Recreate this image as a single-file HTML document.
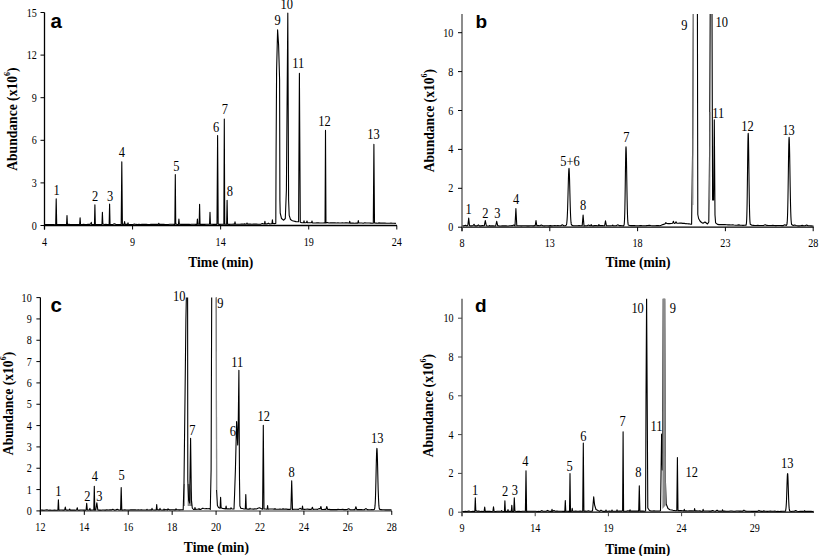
<!DOCTYPE html>
<html><head><meta charset="utf-8"><style>
html,body{margin:0;padding:0;background:#fff;}
svg{display:block;}
text{font-family:"Liberation Serif",serif;font-size:11.5px;fill:#000;}
text.pl{font-size:14.3px;}
text.tt{font-size:13.6px;font-weight:bold;}
tspan.sup{font-size:8px;}
text.let{font-family:"Liberation Sans",sans-serif;font-weight:bold;font-size:19px;}
</style></head><body>
<svg width="819" height="556" viewBox="0 0 819 556">
<rect width="819" height="556" fill="#fff"/>
<g><clipPath id="cp0"><rect x="44.5" y="12.5" width="354.5" height="223"/></clipPath>
<line x1="43.85" y1="225.5" x2="397" y2="225.5" stroke="#000" stroke-width="1.3"/>
<line x1="44.5" y1="12.5" x2="44.5" y2="229.5" stroke="#000" stroke-width="1.3"/>
<line x1="40.5" y1="225.5" x2="44.5" y2="225.5" stroke="#000" stroke-width="1"/>
<text transform="translate(36.8 229.5) scale(0.88 1)" text-anchor="end">0</text>
<line x1="40.5" y1="182.9" x2="44.5" y2="182.9" stroke="#000" stroke-width="1"/>
<text transform="translate(36.8 186.9) scale(0.88 1)" text-anchor="end">3</text>
<line x1="40.5" y1="140.3" x2="44.5" y2="140.3" stroke="#000" stroke-width="1"/>
<text transform="translate(36.8 144.3) scale(0.88 1)" text-anchor="end">6</text>
<line x1="40.5" y1="97.7" x2="44.5" y2="97.7" stroke="#000" stroke-width="1"/>
<text transform="translate(36.8 101.7) scale(0.88 1)" text-anchor="end">9</text>
<line x1="40.5" y1="55.1" x2="44.5" y2="55.1" stroke="#000" stroke-width="1"/>
<text transform="translate(36.8 59.1) scale(0.88 1)" text-anchor="end">12</text>
<line x1="40.5" y1="12.5" x2="44.5" y2="12.5" stroke="#000" stroke-width="1"/>
<text transform="translate(36.8 16.5) scale(0.88 1)" text-anchor="end">15</text>
<line x1="44.5" y1="225.5" x2="44.5" y2="229.5" stroke="#000" stroke-width="1"/>
<text transform="translate(44.5 245.8) scale(0.88 1)" text-anchor="middle">4</text>
<line x1="132.58" y1="225.5" x2="132.58" y2="229.5" stroke="#000" stroke-width="1"/>
<text transform="translate(132.58 245.8) scale(0.88 1)" text-anchor="middle">9</text>
<line x1="220.65" y1="225.5" x2="220.65" y2="229.5" stroke="#000" stroke-width="1"/>
<text transform="translate(220.65 245.8) scale(0.88 1)" text-anchor="middle">14</text>
<line x1="308.73" y1="225.5" x2="308.73" y2="229.5" stroke="#000" stroke-width="1"/>
<text transform="translate(308.73 245.8) scale(0.88 1)" text-anchor="middle">19</text>
<line x1="396.8" y1="225.5" x2="396.8" y2="229.5" stroke="#000" stroke-width="1"/>
<text transform="translate(396.8 245.8) scale(0.88 1)" text-anchor="middle">24</text>
<path clip-path="url(#cp0)" d="M44.5 224.57 L46 224.61 L47.5 224.53 L49 224.64 L50.5 224.52 L52 224.56 L53.5 224.47 L55 224.68 L55.7 224.62 L56.2 198.7 L56.7 224.56 L58.2 224.59 L59.7 224.48 L61.2 224.62 L62.7 224.46 L64.2 224.58 L65.7 224.49 L66.55 224.65 L67 215.6 L67.45 224.55 L68.95 224.41 L70.45 224.47 L71.95 224.61 L73.45 224.59 L74.95 224.49 L76.45 224.55 L77.95 224.57 L79.45 224.45 L79.65 224.45 L80.1 217.9 L80.55 224.4 L82.05 224.48 L83.55 224.41 L85.05 224.49 L86.55 224.61 L88.05 224.4 L89.55 224.41 L90.85 223.73 L91.3 222.3 L91.75 224.56 L93.25 224.46 L94.45 224.5 L94.9 204.8 L95.35 224.55 L96.85 224.51 L98.35 224.54 L99.85 224.53 L101.35 224.45 L101.95 224.52 L102.4 212.2 L102.85 223.94 L104.35 224.47 L105.85 224.39 L107.35 224.58 L108.85 224.37 L109.15 224.37 L109.6 204.1 L110.05 224.5 L111.55 224.55 L113.05 224.35 L114.55 223.72 L116.05 224.54 L117.55 224.5 L119.05 224.54 L120.55 224.46 L121.2 224.45 L121.8 161.7 L122.4 224.39 L123.9 224.34 L124.15 224.34 L124.6 221.5 L125.05 224.4 L126.55 224.32 L127.55 224.5 L128 222.8 L128.45 224.37 L129.95 224.48 L131.45 224.51 L132.95 224.53 L134.45 224.05 L135.95 224.42 L137.45 224.51 L138.95 224.28 L140.45 224.49 L141.95 224.36 L143.45 224.38 L144.95 224.35 L146.45 224.38 L147.95 224.45 L149.45 224.44 L150.95 224.39 L152.45 224.34 L153.95 224.4 L155.45 224.41 L156.95 224.28 L158.35 224.36 L158.8 223.3 L159.25 224.39 L160.75 224.41 L162.25 224.35 L163.75 224.33 L165.25 224.47 L166.75 224.46 L168.25 224.45 L169.75 224.31 L171.25 224.27 L172.75 224.25 L174.25 224.33 L174.85 224.34 L175.3 174.6 L175.75 223.88 L177.25 224.43 L178.45 224.41 L178.9 219 L179.35 224.2 L180.85 224.4 L182.35 224.2 L183.85 224.36 L185.35 224.31 L186.85 224.36 L188.35 224.4 L189.85 224.42 L191.35 224.2 L192.85 224.2 L194.35 224.24 L195.85 224.37 L196.95 224.36 L197.4 219 L197.85 224.18 L199.15 224.28 L199.6 204.2 L200.05 224.41 L201.55 224.37 L203.05 224.24 L204.55 224.39 L206.05 224.2 L207.55 224.26 L209.05 224.28 L209.55 224.21 L210 212.3 L210.45 224.26 L211.95 224.3 L213.45 224.38 L214.95 224.28 L216.45 224.37 L217 223.71 L217.6 135.5 L218.2 224.25 L219.7 224.34 L221.2 224.31 L222.7 224.27 L223.85 224.23 L224.3 119.1 L224.75 224.21 L226.25 224.21 L226.65 224.32 L227.1 200.3 L227.55 224.14 L229.05 224.36 L230.55 224.23 L232.05 224.24 L233.55 224.17 L234.55 224.28 L235 221.8 L235.45 224.18 L236.95 224.22 L238.45 224.28 L239.95 224.2 L241.45 224.11 L242.95 224.17 L244.45 223.9 L245.95 224.29 L246.55 223.94 L247 223 L247.45 224.17 L248.95 224.1 L250.45 224.14 L251.95 224.22 L253.45 224.13 L254.95 224.1 L256.45 224.07 L257.95 224.26 L259.45 224.25 L260.95 224.08 L262.45 223.48 L263.95 224.05 L264.45 224.03 L264.9 221.4 L265.35 224.06 L266.85 223.9 L268.35 223.15 L269.85 223.93 L271.35 223.71 L271.95 223.81 L272.4 219.8 L272.85 223.47 L274.35 223.66 L275.8 223.4 L276.1 150 L276.6 70 L277.6 29.7 L278.6 45 L279.6 80 L279.9 200 L280.2 213 L281.5 218.5 L283.7 220.2 L285.3 218.5 L286.4 190 L287.8 12.9 L288.6 200 L289.2 215.3 L290.5 219.5 L292.4 220.7 L296 221.6 L298.6 221.8 L299.4 73.4 L300.3 222.3 L301.8 222.74 L303.3 222.79 L303.55 222.79 L304 220.8 L304.45 222.77 L305.95 222.82 L306.55 222.32 L307 221 L307.45 222.76 L308.95 222.7 L310.45 222.75 L311.55 222.72 L312 221 L312.45 222.84 L313.95 222.93 L315.45 222.95 L316.95 222.75 L318.45 222.84 L319.95 222.97 L321.45 222.95 L322.95 223.02 L324.45 222.92 L325.05 222.89 L325.5 130.4 L325.95 222.88 L327.45 222.4 L328.95 223 L330.45 222.92 L331.95 222.92 L333.45 222.9 L334.95 222.88 L336.45 222.95 L337.95 222.88 L339.45 222.96 L340.95 223.04 L342.45 222.92 L343.95 222.94 L345.45 222.89 L346.95 222.9 L348.45 223.02 L349.25 223.08 L349.7 221.2 L350.15 223.08 L351.65 223.09 L353.15 223.08 L354.65 223.18 L356.15 223.08 L357.65 223.1 L357.85 223.14 L358.3 220.6 L358.75 222.95 L360.25 223.04 L361.75 223.06 L363.25 223.18 L364.75 222.69 L366.25 223.03 L367.75 223 L369.25 223.05 L370.75 223.08 L372.25 223.2 L373.3 223.23 L373.9 144.4 L374.5 223.04 L376 223.14 L377.5 223.21 L379 222.87 L380.5 223.1 L382 223.14 L383.5 223.14 L385 223.15 L386.5 223.18 L388 223.25 L389.5 223.2 L391 223.17 L392.5 223.18 L394 223.23 L395.5 223.33 L396 223.18" fill="none" stroke="#000" stroke-width="1.1" stroke-linejoin="round"/>
<text class="tt" x="220.8" y="266.6" text-anchor="middle">Time (min)</text>
<text class="tt" transform="translate(17.3 119.1) rotate(-90)" text-anchor="middle">Abundance (x10<tspan class="sup" dy="-7">6</tspan><tspan dy="7">)</tspan></text>
<text class="let" x="50.4" y="27.6" style="font-size:20.5px">a</text>
<text class="pl" transform="translate(56.7 195.3) scale(0.87 1)" text-anchor="middle">1</text>
<text class="pl" transform="translate(95.2 201.3) scale(0.87 1)" text-anchor="middle">2</text>
<text class="pl" transform="translate(110.1 201.3) scale(0.87 1)" text-anchor="middle">3</text>
<text class="pl" transform="translate(121.8 157.2) scale(0.87 1)" text-anchor="middle">4</text>
<text class="pl" transform="translate(176.4 171) scale(0.87 1)" text-anchor="middle">5</text>
<text class="pl" transform="translate(216.2 131.5) scale(0.87 1)" text-anchor="middle">6</text>
<text class="pl" transform="translate(224.8 114) scale(0.87 1)" text-anchor="middle">7</text>
<text class="pl" transform="translate(229.9 196) scale(0.87 1)" text-anchor="middle">8</text>
<text class="pl" transform="translate(277.6 24.6) scale(0.87 1)" text-anchor="middle">9</text>
<text class="pl" transform="translate(286.8 8.6) scale(0.87 1)" text-anchor="middle">10</text>
<text class="pl" transform="translate(298.3 67.7) scale(0.87 1)" text-anchor="middle">11</text>
<text class="pl" transform="translate(324.4 126.2) scale(0.87 1)" text-anchor="middle">12</text>
<text class="pl" transform="translate(373.4 138.5) scale(0.87 1)" text-anchor="middle">13</text></g>
<g><clipPath id="cp1"><rect x="462" y="14" width="353.8" height="223.2"/></clipPath>
<line x1="461.1" y1="227.2" x2="813.8" y2="227.2" stroke="#000" stroke-width="1.2"/>
<line x1="462" y1="14" x2="462" y2="231.2" stroke="#808080" stroke-width="1.8"/>
<line x1="458" y1="227.2" x2="462" y2="227.2" stroke="#000" stroke-width="1"/>
<text transform="translate(453.3 231.2) scale(0.88 1)" text-anchor="end">0</text>
<line x1="458" y1="188.3" x2="462" y2="188.3" stroke="#000" stroke-width="1"/>
<text transform="translate(453.3 192.3) scale(0.88 1)" text-anchor="end">2</text>
<line x1="458" y1="149.4" x2="462" y2="149.4" stroke="#000" stroke-width="1"/>
<text transform="translate(453.3 153.4) scale(0.88 1)" text-anchor="end">4</text>
<line x1="458" y1="110.5" x2="462" y2="110.5" stroke="#000" stroke-width="1"/>
<text transform="translate(453.3 114.5) scale(0.88 1)" text-anchor="end">6</text>
<line x1="458" y1="71.6" x2="462" y2="71.6" stroke="#000" stroke-width="1"/>
<text transform="translate(453.3 75.6) scale(0.88 1)" text-anchor="end">8</text>
<line x1="458" y1="32.7" x2="462" y2="32.7" stroke="#000" stroke-width="1"/>
<text transform="translate(453.3 36.7) scale(0.88 1)" text-anchor="end">10</text>
<line x1="462" y1="227.2" x2="462" y2="231.2" stroke="#000" stroke-width="1"/>
<text transform="translate(462 247.4) scale(0.88 1)" text-anchor="middle">8</text>
<line x1="549.8" y1="227.2" x2="549.8" y2="231.2" stroke="#000" stroke-width="1"/>
<text transform="translate(549.8 247.4) scale(0.88 1)" text-anchor="middle">13</text>
<line x1="637.6" y1="227.2" x2="637.6" y2="231.2" stroke="#000" stroke-width="1"/>
<text transform="translate(637.6 247.4) scale(0.88 1)" text-anchor="middle">18</text>
<line x1="725.4" y1="227.2" x2="725.4" y2="231.2" stroke="#000" stroke-width="1"/>
<text transform="translate(725.4 247.4) scale(0.88 1)" text-anchor="middle">23</text>
<line x1="813.2" y1="227.2" x2="813.2" y2="231.2" stroke="#000" stroke-width="1"/>
<text transform="translate(813.2 247.4) scale(0.88 1)" text-anchor="middle">28</text>
<path clip-path="url(#cp1)" d="M462.5 225.87 L464 225.82 L465.5 225.35 L467 225.97 L467.9 225.13 L468.7 218 L469.5 225.79 L471 225.88 L472.5 225.71 L473 225.81 L474 224.3 L475 225.86 L476.5 225.9 L477.4 225.7 L478.4 224.9 L479.4 225.85 L480.9 225.87 L482.4 225.67 L483.9 225.73 L484.3 225.52 L485.3 220.5 L486.3 225.71 L487.8 225.97 L489.25 225.97 L489.7 225.5 L490.15 225.93 L491.65 225.85 L493.15 225.91 L494.65 225.94 L495.7 225.91 L496.7 221.4 L497.7 225.72 L499.2 225.85 L500.7 225.94 L502.2 225.9 L503.7 225.84 L505.2 225.73 L506.7 225.92 L508.2 225.93 L509.7 225.76 L511.2 225.74 L511.35 225.71 L511.8 225.6 L512.25 225.68 L513.75 224.97 L515 225.9 L515.9 208.5 L516.8 225.73 L518.3 225.79 L519.8 225.8 L521.3 225.86 L522.8 225.8 L524.3 225.7 L525.8 225.68 L527.3 225.86 L528.8 225.85 L530.3 225.73 L531.8 225.75 L533.3 225.9 L534.8 225.65 L535.2 225.65 L536 220.5 L536.8 225.67 L538.3 225.62 L539.8 225.8 L541.3 225 L542.8 225.72 L544.3 225.83 L545.8 225.71 L547.3 225.78 L548.8 225.88 L550.3 225.63 L551.8 225.88 L553.3 225.69 L554.8 225.64 L556.3 225.69 L557.8 225.6 L559.3 225.73 L560.8 225.77 L562.3 224.84 L563.8 225.74 L565.3 225.77 L566.3 225.12 L566.49 224.57 L566.69 223.66 L566.88 222.06 L567.07 219.86 L567.26 216.84 L567.46 212.58 L567.65 207.17 L567.84 200.76 L568.04 193.56 L568.23 186.16 L568.42 179.3 L568.61 173.64 L568.81 169.7 L569 168.4 L569.18 169.7 L569.36 173.61 L569.55 179.27 L569.73 186.18 L569.91 193.56 L570.09 200.76 L570.27 207.1 L570.46 212.51 L570.64 216.77 L570.82 219.97 L571 222.18 L571.19 223.64 L571.37 224.53 L571.55 225.08 L573.05 225.61 L574.55 225.74 L576.05 225.79 L577.55 225.69 L579.05 225.63 L580.55 225.69 L582.05 225.6 L582.2 225.6 L583.1 215.1 L584 225.85 L585.5 225.68 L587 225.68 L588.5 225.02 L590 225.68 L590.75 225.65 L591.2 224.5 L591.65 225.81 L593.15 225.86 L594.65 225.65 L596.15 225.59 L597.65 225.83 L598.45 225.78 L598.9 224.5 L599.35 225.6 L600.85 225.63 L602.35 225.63 L603.85 225.8 L604.6 225.78 L605.5 220.9 L606.4 225.59 L607.9 225.81 L609.4 225.72 L610.9 225.68 L612.25 225.57 L612.7 225 L613.15 225.82 L614.65 225.78 L616.15 225.82 L617.65 224.86 L619.15 225.61 L620.65 225.64 L622.15 225.76 L623.65 225.83 L624.05 224.95 L624.19 224.2 L624.33 222.7 L624.47 220.68 L624.61 217.64 L624.75 213.29 L624.89 207.6 L625.02 200.12 L625.16 191.2 L625.3 181.21 L625.44 170.99 L625.58 161.45 L625.72 153.63 L625.86 148.59 L626 146.8 L626.16 148.59 L626.32 153.29 L626.48 161.11 L626.64 170.65 L626.8 180.6 L626.96 190.54 L627.12 199.46 L627.29 207.62 L627.45 213.49 L627.61 217.84 L627.77 220.91 L627.93 222.93 L628.09 224.19 L628.25 224.94 L629.75 225.43 L631.25 225.59 L632.75 225.63 L634.25 225.57 L635.75 225.78 L637.25 225.68 L638.75 225.82 L640.25 225.53 L641.75 225.66 L643.25 225.68 L644.75 225.72 L646.25 225.67 L647.75 225.54 L649.25 225.26 L650.75 225.57 L652.25 225.69 L653.75 225.78 L655.25 225.69 L656.75 225.55 L658.25 225.61 L659.75 225.73 L661.25 225.31 L662.75 224.6 L664.25 224.14 L665.1 223.83 L665.9 222.6 L666.7 223.51 L668.2 223.6 L669.7 223.62 L671.2 223.53 L672.6 223.32 L673.4 221.2 L674.2 223.42 L675.2 223.23 L676 221.8 L676.8 223.18 L678.3 223.19 L679.8 222.93 L681.3 223.14 L682.8 223.38 L684.3 223.37 L685.8 223.67 L687.3 223.69 L688.8 223.84 L690.3 224.08 L691.6 224.2 L692.6 150 L693.4 10 L697.4 10 L697.8 214.5 L698.6 218.5 L700 221 L701.5 222.5 L703 223.3 L705 222 L707.5 224 L708.8 222 L709.6 150 L710.2 10 L712 10 L712.6 200 L713.6 200 L714.3 119.7 L715 215 L715.6 222.8 L717.5 224.4 L719 224.6 L720.5 224.47 L722 224.59 L723.5 224.63 L725 224.64 L726.5 224.72 L728 224.91 L729.5 224.85 L731 224.98 L732.5 224.86 L734 225.06 L735.5 225.19 L737 225.26 L738.5 224.89 L740 225.14 L741.5 225.28 L743 225.35 L744.5 225.32 L746 225.27 L746.25 224.25 L746.39 223.55 L746.53 222.08 L746.67 219.73 L746.81 216.15 L746.95 211.09 L747.09 204.25 L747.23 195.56 L747.36 185.04 L747.5 173.48 L747.64 161.59 L747.78 150.37 L747.92 141.27 L748.06 135.29 L748.2 133.2 L748.35 134.88 L748.5 140.86 L748.65 149.96 L748.8 161.49 L748.95 173.38 L749.1 184.95 L749.25 195.33 L749.4 204.25 L749.55 211.09 L749.7 216.15 L749.85 219.69 L750 222.04 L750.15 223.51 L750.3 224.28 L751.8 225.31 L753.3 225.41 L754.8 225.49 L756.3 225.47 L757.8 225.42 L759.3 225.46 L760.8 225.5 L762.3 225.48 L763.8 225.37 L765.3 224.71 L766.8 225.39 L768.3 225.48 L769.8 225.54 L771.3 225.47 L772.8 225.37 L774.3 225.54 L775.8 225.6 L777.3 225.53 L778.8 225.56 L780.3 225.43 L781.8 225.61 L783.3 225.6 L784.8 224.74 L786.3 225.5 L786.85 224.68 L787.01 223.84 L787.17 222.43 L787.33 220.31 L787.49 216.91 L787.65 212.06 L787.81 205.27 L787.98 196.93 L788.14 186.97 L788.3 176.05 L788.46 164.65 L788.62 154 L788.78 145.14 L788.94 139.4 L789.1 137.4 L789.28 139.33 L789.46 145.07 L789.65 153.79 L789.83 164.58 L790.01 175.98 L790.19 187.07 L790.38 197.09 L790.56 205.43 L790.74 211.99 L790.92 216.88 L791.1 220.27 L791.29 222.3 L791.47 223.71 L791.65 224.56 L793.15 225.56 L794.65 224.96 L796.15 225.48 L797.65 225.83 L799.15 225.86 L800.65 225.7 L802.15 225.4 L803.65 225.76 L805.15 225.78 L806.65 224.97 L808.15 225.8 L809.65 225.71 L811.15 225.84 L812.65 225.96 L813.5 225.94" fill="none" stroke="#000" stroke-width="1.1" stroke-linejoin="round"/>
<path clip-path="url(#cp1)" d="M692.75 205 L693.3 14" fill="none" stroke="#8c8c8c" stroke-width="1.3"/>
<path clip-path="url(#cp1)" d="M709.75 200 L710.1 112" fill="none" stroke="#8c8c8c" stroke-width="1.1"/>
<text class="tt" x="638.1" y="266.8" text-anchor="middle">Time (min)</text>
<text class="tt" transform="translate(434 120.6) rotate(-90)" text-anchor="middle">Abundance (x10<tspan class="sup" dy="-7">6</tspan><tspan dy="7">)</tspan></text>
<text class="let" x="475.4" y="27.6" style="font-size:19px">b</text>
<text class="pl" transform="translate(468.7 214) scale(0.87 1)" text-anchor="middle">1</text>
<text class="pl" transform="translate(485.3 217.5) scale(0.87 1)" text-anchor="middle">2</text>
<text class="pl" transform="translate(497.3 217.5) scale(0.87 1)" text-anchor="middle">3</text>
<text class="pl" transform="translate(516.2 203.7) scale(0.87 1)" text-anchor="middle">4</text>
<text class="pl" transform="translate(569.9 165.7) scale(0.87 1)" text-anchor="middle">5+6</text>
<text class="pl" transform="translate(583.1 209.8) scale(0.87 1)" text-anchor="middle">8</text>
<text class="pl" transform="translate(626.3 141.6) scale(0.87 1)" text-anchor="middle">7</text>
<text class="pl" transform="translate(684.3 29.7) scale(0.87 1)" text-anchor="middle">9</text>
<text class="pl" transform="translate(721.7 26.8) scale(0.87 1)" text-anchor="middle">10</text>
<text class="pl" transform="translate(718.3 117.8) scale(0.87 1)" text-anchor="middle">11</text>
<text class="pl" transform="translate(747.5 131) scale(0.87 1)" text-anchor="middle">12</text>
<text class="pl" transform="translate(788.6 134.5) scale(0.87 1)" text-anchor="middle">13</text></g>
<g><clipPath id="cp2"><rect x="40.4" y="297.4" width="353.6" height="223.5"/></clipPath>
<line x1="39.8" y1="510.9" x2="392" y2="510.9" stroke="#777" stroke-width="1.5"/>
<line x1="40.4" y1="297.4" x2="40.4" y2="514.9" stroke="#000" stroke-width="1.2"/>
<line x1="36.4" y1="510.9" x2="40.4" y2="510.9" stroke="#000" stroke-width="1"/>
<text transform="translate(31.7 514.9) scale(0.88 1)" text-anchor="end">0</text>
<line x1="36.4" y1="489.57" x2="40.4" y2="489.57" stroke="#000" stroke-width="1"/>
<text transform="translate(31.7 493.57) scale(0.88 1)" text-anchor="end">1</text>
<line x1="36.4" y1="468.24" x2="40.4" y2="468.24" stroke="#000" stroke-width="1"/>
<text transform="translate(31.7 472.24) scale(0.88 1)" text-anchor="end">2</text>
<line x1="36.4" y1="446.91" x2="40.4" y2="446.91" stroke="#000" stroke-width="1"/>
<text transform="translate(31.7 450.91) scale(0.88 1)" text-anchor="end">3</text>
<line x1="36.4" y1="425.58" x2="40.4" y2="425.58" stroke="#000" stroke-width="1"/>
<text transform="translate(31.7 429.58) scale(0.88 1)" text-anchor="end">4</text>
<line x1="36.4" y1="404.25" x2="40.4" y2="404.25" stroke="#000" stroke-width="1"/>
<text transform="translate(31.7 408.25) scale(0.88 1)" text-anchor="end">5</text>
<line x1="36.4" y1="382.92" x2="40.4" y2="382.92" stroke="#000" stroke-width="1"/>
<text transform="translate(31.7 386.92) scale(0.88 1)" text-anchor="end">6</text>
<line x1="36.4" y1="361.59" x2="40.4" y2="361.59" stroke="#000" stroke-width="1"/>
<text transform="translate(31.7 365.59) scale(0.88 1)" text-anchor="end">7</text>
<line x1="36.4" y1="340.26" x2="40.4" y2="340.26" stroke="#000" stroke-width="1"/>
<text transform="translate(31.7 344.26) scale(0.88 1)" text-anchor="end">8</text>
<line x1="36.4" y1="318.93" x2="40.4" y2="318.93" stroke="#000" stroke-width="1"/>
<text transform="translate(31.7 322.93) scale(0.88 1)" text-anchor="end">9</text>
<line x1="36.4" y1="297.6" x2="40.4" y2="297.6" stroke="#000" stroke-width="1"/>
<text transform="translate(31.7 301.6) scale(0.88 1)" text-anchor="end">10</text>
<line x1="40.4" y1="510.9" x2="40.4" y2="514.9" stroke="#000" stroke-width="1"/>
<text transform="translate(40.4 530.9) scale(0.88 1)" text-anchor="middle">12</text>
<line x1="84.32" y1="510.9" x2="84.32" y2="514.9" stroke="#000" stroke-width="1"/>
<text transform="translate(84.32 530.9) scale(0.88 1)" text-anchor="middle">14</text>
<line x1="128.24" y1="510.9" x2="128.24" y2="514.9" stroke="#000" stroke-width="1"/>
<text transform="translate(128.24 530.9) scale(0.88 1)" text-anchor="middle">16</text>
<line x1="172.16" y1="510.9" x2="172.16" y2="514.9" stroke="#000" stroke-width="1"/>
<text transform="translate(172.16 530.9) scale(0.88 1)" text-anchor="middle">18</text>
<line x1="216.08" y1="510.9" x2="216.08" y2="514.9" stroke="#000" stroke-width="1"/>
<text transform="translate(216.08 530.9) scale(0.88 1)" text-anchor="middle">20</text>
<line x1="260" y1="510.9" x2="260" y2="514.9" stroke="#000" stroke-width="1"/>
<text transform="translate(260 530.9) scale(0.88 1)" text-anchor="middle">22</text>
<line x1="303.92" y1="510.9" x2="303.92" y2="514.9" stroke="#000" stroke-width="1"/>
<text transform="translate(303.92 530.9) scale(0.88 1)" text-anchor="middle">24</text>
<line x1="347.84" y1="510.9" x2="347.84" y2="514.9" stroke="#000" stroke-width="1"/>
<text transform="translate(347.84 530.9) scale(0.88 1)" text-anchor="middle">26</text>
<line x1="391.76" y1="510.9" x2="391.76" y2="514.9" stroke="#000" stroke-width="1"/>
<text transform="translate(391.76 530.9) scale(0.88 1)" text-anchor="middle">28</text>
<path clip-path="url(#cp2)" d="M183.4 506 L183.8 484 L184.9 484 L184.9 506 Z" fill="#8a8a8a" stroke="none"/>
<path clip-path="url(#cp2)" d="M187.6 484 L189.5 484 L192 495 L192.2 506 L187.6 506 Z" fill="#8a8a8a" stroke="none"/>
<path clip-path="url(#cp2)" d="M41 510.07 L42.5 510.13 L44 510.27 L45.5 510.03 L47 509.76 L48.5 510.18 L50 510.1 L51.5 510.22 L53 510.24 L54.5 510.05 L56 510.24 L57.5 510.15 L57.9 510.08 L58.4 499.8 L58.9 510.24 L60.4 510.02 L61.9 510.01 L63.4 510.12 L64.7 509.95 L65.3 507.1 L65.9 509.99 L67.4 510.09 L68.9 510.05 L69.25 510.05 L69.7 509 L70.15 510.08 L71.65 510.11 L73.15 510.09 L74.65 510.07 L76.15 510.2 L76.8 509.28 L77.3 507.7 L77.8 510.21 L79.3 510.09 L80.8 509.93 L82.3 509.94 L83.8 510.13 L85.3 510.17 L86.1 509.94 L86.7 503.3 L87.3 509.92 L88.8 510 L89.45 509.91 L89.9 508.3 L90.35 510.16 L91.85 509.95 L93.35 509.97 L93.8 510.05 L94.3 486.3 L94.8 510.09 L95.8 510.01 L96.8 502.7 L97.8 509.91 L99.3 510.14 L100.8 510.17 L102.3 509.93 L103.8 510.02 L105.3 510.11 L106.8 509.76 L108.3 509.95 L109.8 509.87 L111.3 509.91 L112.8 509.3 L114.3 510.11 L115.8 509.86 L117.3 509.36 L118.8 510.06 L120.3 509.83 L120.6 509.83 L121.2 487.6 L121.8 510.08 L123.3 510.05 L124.8 509.89 L126.3 510.01 L127.8 510.01 L129.3 510.08 L130.8 509.81 L132.3 509.88 L133.8 509.89 L135.3 509.89 L136.8 509.95 L138.3 509.82 L139.8 510.06 L141.3 509.81 L142.8 509.95 L144.3 510.02 L145.8 510.01 L146.55 509.9 L147 509.3 L147.45 510.01 L148.95 509.97 L150.45 509.86 L151.55 510.04 L152 508.3 L152.45 509.76 L153.95 509.97 L155.45 509.93 L156.2 509.96 L156.7 504.6 L157.2 509.79 L158.7 509.87 L159.55 509.94 L160 508.3 L160.45 509.75 L161.95 509.97 L163.45 510.01 L163.55 510.01 L164 509 L164.45 510.02 L165.95 509.43 L167.45 509.98 L167.55 509.98 L168 508.8 L168.45 509.39 L169.95 509.91 L171.45 509.79 L172.95 509.72 L174.45 509.83 L175.55 509.87 L176 508.8 L176.45 509.81 L177.95 509.75 L179.45 509.83 L180.95 509.76 L182.45 509.82 L183.2 509.8 L184 483 L185.1 390 L185.9 320 L186.4 295 L187.6 295 L187.8 480 L188.6 500 L189.6 503 L190.6 438.2 L191.4 500 L192.3 508 L193.5 509.5 L194.55 509.35 L195 507.5 L195.45 509.48 L196.95 509.29 L198.45 509.25 L198.55 509.24 L199 508.5 L199.45 509.35 L200.95 509.34 L202.45 508.33 L202.55 508.32 L203 508.2 L203.45 508.43 L204.95 508.82 L206.45 508.61 L207.95 508.68 L209.45 508.54 L210.3 509.5 L211.1 470 L211.7 295 L216.3 295 L216.6 490 L217.4 505.5 L218.5 507.5 L220 508.22 L220.1 508.23 L220.6 497.3 L221.1 507.74 L222.6 508.52 L224.1 508.63 L225.6 508.83 L225.65 508.83 L226.1 506 L226.55 508.9 L228.05 508.76 L229.55 508.9 L230.55 508.94 L231 507.8 L231.45 508.81 L232.95 509.02 L234 509 L234.6 494 L235.4 470 L236.6 421.5 L237.7 445 L238.3 420 L238.9 370.3 L239.5 480 L239.9 506 L241 508.5 L242.5 508.5 L244 508.94 L245.3 509.05 L245.8 494.5 L246.3 509.06 L247.8 509.13 L249.3 509.11 L249.55 509.12 L250 508.2 L250.45 509.05 L251.95 509.03 L253.45 509.11 L254.95 508.89 L256.45 509.03 L257.95 508.32 L259.45 507.85 L260.95 508.48 L262.45 509.17 L262.6 509.17 L263.3 425.3 L264 509.04 L265.5 509.02 L267 509.22 L267.15 509.22 L267.6 505.5 L268.05 509.2 L269.55 509.06 L271.05 509.03 L272.55 509.06 L274.05 509.09 L274.55 509.21 L275 508.5 L275.45 509.11 L276.95 509.28 L278.45 509.21 L279.95 509.13 L281.45 509.28 L282.55 509.26 L283 508.5 L283.45 509.27 L284.95 509.17 L286.45 509.1 L287.95 509.34 L289.45 509.34 L290.9 509.27 L291.7 480.7 L292.5 509.36 L294 509.2 L295.5 509.26 L297 509.29 L298.5 509.39 L300 508.33 L301.5 509.24 L302.05 509.33 L302.5 506 L302.95 509.19 L304.45 509.4 L305.95 509.22 L307.45 509.05 L308.95 509.4 L310.45 509.39 L311.6 509.32 L312.4 507.3 L313.2 509.44 L314.7 509.31 L316.2 509.29 L317.7 509.35 L319.2 508.46 L320.1 509.05 L320.9 506.5 L321.7 509.57 L323.2 509.53 L324.7 509.37 L326 509.34 L326.8 506.5 L327.6 509.44 L329.1 509.4 L330.6 509.59 L332.1 509.58 L333.6 509.48 L335.1 509.58 L336.6 509.66 L338.1 509.41 L339.6 509.57 L341.1 509.52 L342.6 509.41 L344.1 509.62 L345.6 509.58 L347.1 509.51 L348.6 508.71 L350.1 509.59 L351.6 509.7 L353.1 509.76 L354.6 509.58 L355 509.58 L355.9 506.7 L356.8 509.67 L358.3 509.63 L359.8 509.54 L361.3 509.58 L362.8 509.81 L364.3 509.76 L365.8 508.57 L367.3 509.59 L368.8 509.82 L370.3 509.69 L371.8 509.66 L373.3 509.78 L374.5 509.14 L374.67 508.55 L374.84 507.5 L375.01 505.93 L375.19 503.56 L375.36 500.21 L375.53 495.64 L375.7 489.82 L375.87 482.82 L376.04 475.09 L376.21 467.13 L376.39 459.81 L376.56 453.73 L376.73 449.73 L376.9 448.2 L377.08 449.6 L377.26 453.51 L377.45 459.6 L377.63 467.03 L377.81 475.01 L377.99 482.75 L378.17 489.7 L378.36 494.54 L378.54 499.11 L378.72 502.5 L378.9 505.69 L379.09 507.26 L379.27 508.53 L379.45 509.11 L380.95 509.65 L382.45 509.81 L383.95 509.81 L385.45 509.85 L386.95 509.92 L388.45 509.77 L389.95 509.86 L391.45 509.91 L391.5 509.91" fill="none" stroke="#000" stroke-width="1.1" stroke-linejoin="round"/>
<path clip-path="url(#cp2)" d="M216.3 297 L216.55 490" fill="none" stroke="#8c8c8c" stroke-width="1.2"/>
<text class="tt" x="216.4" y="551.5" text-anchor="middle">Time (min)</text>
<text class="tt" transform="translate(13 403.5) rotate(-90)" text-anchor="middle">Abundance (x10<tspan class="sup" dy="-7">6</tspan><tspan dy="7">)</tspan></text>
<text class="let" x="50.6" y="312.2" style="font-size:20.5px">c</text>
<text class="pl" transform="translate(58.4 495.5) scale(0.87 1)" text-anchor="middle">1</text>
<text class="pl" transform="translate(87.4 500.6) scale(0.87 1)" text-anchor="middle">2</text>
<text class="pl" transform="translate(99.3 500.6) scale(0.87 1)" text-anchor="middle">3</text>
<text class="pl" transform="translate(94.9 480.8) scale(0.87 1)" text-anchor="middle">4</text>
<text class="pl" transform="translate(121.7 480.2) scale(0.87 1)" text-anchor="middle">5</text>
<text class="pl" transform="translate(179.2 300.6) scale(0.87 1)" text-anchor="middle">10</text>
<text class="pl" transform="translate(192.3 434.8) scale(0.87 1)" text-anchor="middle">7</text>
<text class="pl" transform="translate(220.3 307.7) scale(0.87 1)" text-anchor="middle">9</text>
<text class="pl" transform="translate(232.8 436.3) scale(0.87 1)" text-anchor="middle">6</text>
<text class="pl" transform="translate(237.3 367) scale(0.87 1)" text-anchor="middle">11</text>
<text class="pl" transform="translate(263.7 420.9) scale(0.87 1)" text-anchor="middle">12</text>
<text class="pl" transform="translate(291.7 476.5) scale(0.87 1)" text-anchor="middle">8</text>
<text class="pl" transform="translate(377.3 442.8) scale(0.87 1)" text-anchor="middle">13</text></g>
<g><clipPath id="cp3"><rect x="462" y="298.7" width="354" height="223.5"/></clipPath>
<line x1="461.2" y1="512.2" x2="814" y2="512.2" stroke="#000" stroke-width="1.3"/>
<line x1="462" y1="298.7" x2="462" y2="516.2" stroke="#6e6e6e" stroke-width="1.6"/>
<line x1="458" y1="512.2" x2="462" y2="512.2" stroke="#444" stroke-width="1"/>
<text transform="translate(453.5 516.2) scale(0.88 1)" text-anchor="end">0</text>
<line x1="458" y1="473.4" x2="462" y2="473.4" stroke="#444" stroke-width="1"/>
<text transform="translate(453.5 477.4) scale(0.88 1)" text-anchor="end">2</text>
<line x1="458" y1="434.6" x2="462" y2="434.6" stroke="#444" stroke-width="1"/>
<text transform="translate(453.5 438.6) scale(0.88 1)" text-anchor="end">4</text>
<line x1="458" y1="395.8" x2="462" y2="395.8" stroke="#444" stroke-width="1"/>
<text transform="translate(453.5 399.8) scale(0.88 1)" text-anchor="end">6</text>
<line x1="458" y1="357" x2="462" y2="357" stroke="#444" stroke-width="1"/>
<text transform="translate(453.5 361) scale(0.88 1)" text-anchor="end">8</text>
<line x1="458" y1="318.2" x2="462" y2="318.2" stroke="#444" stroke-width="1"/>
<text transform="translate(453.5 322.2) scale(0.88 1)" text-anchor="end">10</text>
<line x1="462" y1="512.2" x2="462" y2="516.2" stroke="#444" stroke-width="1"/>
<text transform="translate(462 532) scale(0.88 1)" text-anchor="middle">9</text>
<line x1="535.2" y1="512.2" x2="535.2" y2="516.2" stroke="#444" stroke-width="1"/>
<text transform="translate(535.2 532) scale(0.88 1)" text-anchor="middle">14</text>
<line x1="608.4" y1="512.2" x2="608.4" y2="516.2" stroke="#444" stroke-width="1"/>
<text transform="translate(608.4 532) scale(0.88 1)" text-anchor="middle">19</text>
<line x1="681.6" y1="512.2" x2="681.6" y2="516.2" stroke="#444" stroke-width="1"/>
<text transform="translate(681.6 532) scale(0.88 1)" text-anchor="middle">24</text>
<line x1="754.8" y1="512.2" x2="754.8" y2="516.2" stroke="#444" stroke-width="1"/>
<text transform="translate(754.8 532) scale(0.88 1)" text-anchor="middle">29</text>
<path clip-path="url(#cp3)" d="M462.5 511.54 L464 511.5 L465.5 511.36 L467 511.43 L468.5 510.98 L470 511.33 L471.5 511.54 L473 511.35 L474.5 511.58 L474.8 511.53 L475.3 497.7 L475.8 510.54 L477.3 511.33 L478.8 511.03 L480.3 511.48 L481.8 511.42 L483.3 511.54 L484.1 511.4 L484.7 507.1 L485.3 511.51 L486.8 511.37 L488.3 511.4 L489.8 511.3 L491.3 511.53 L492.8 511.3 L492.9 511.3 L493.5 506.8 L494.1 511.31 L495.6 511.48 L497.1 511.29 L498.6 511.3 L500.1 511.27 L501.25 511.31 L501.7 510.5 L502.15 511.27 L503.65 511.49 L504.4 511.48 L504.9 500.8 L505.4 511.5 L506.9 511.42 L507.55 511.43 L508 509.6 L508.45 511.35 L509.95 511.25 L511.3 511.39 L511.8 505.2 L512.3 511.39 L513.7 511.5 L514.3 497.7 L514.9 511.04 L516.4 511.51 L517.9 511.34 L519.4 511.29 L520.9 511.48 L522.4 511.24 L523.9 511.27 L525.4 511.19 L526 470.8 L526.6 511.37 L528.1 511.3 L529.6 511.3 L531.1 511.21 L532.6 511.21 L534.1 511.22 L535.6 511.29 L537.1 511.43 L538.6 511.36 L540.1 511.43 L541.6 510.61 L543.1 511.19 L544.6 511.29 L546.1 511.27 L547.6 510.4 L549.1 511.26 L550.6 511.36 L551.55 511.34 L552 509.3 L552.45 511.35 L553.95 510.49 L555.45 511.2 L556.95 511.15 L558.45 511.26 L559.95 511.26 L561.45 511.2 L562.95 511.39 L564.45 511.22 L564.8 511.41 L565.3 500.5 L565.8 511.2 L567.3 511.24 L568.8 511.33 L569.5 511.37 L570 473.6 L570.5 511.4 L571.75 511.15 L572.2 508.3 L572.65 511.19 L574.15 511.29 L575.65 511.14 L577.15 511.31 L578.65 511.31 L580.15 511.1 L581.65 511.28 L582.7 511.11 L583.3 443 L583.9 511.27 L585.4 511.15 L586.9 511.27 L588.4 510.79 L589.9 511.2 L591.4 511.1 L592.5 511 L593.7 496.9 L594.6 505 L596 509.5 L598 510.6 L599.5 511.32 L601 510.09 L602.5 511.18 L604 511.33 L605.5 511.27 L605.55 511.27 L606 510 L606.45 511.22 L607.95 511.29 L609.45 511.08 L610.95 511.3 L611.55 511.25 L612 510 L612.45 511.16 L613.95 511.25 L615.45 511.29 L616.55 511.31 L617 509.8 L617.45 511.21 L618.95 511.13 L620.45 511.05 L621.95 511.17 L622.6 510.6 L623.1 431.8 L623.6 511.32 L625.1 511.3 L626.6 511.11 L628.1 510.73 L629.55 511.28 L630 509.8 L630.45 511.08 L631.95 511.1 L633.45 511.11 L634.95 511.04 L636.45 511.14 L637.95 511.09 L638.7 511.23 L639.3 485.8 L639.9 511.29 L641.4 511.13 L642.9 511 L644.4 511.21 L645.6 511 L646 400 L646.6 295 L647.2 400 L647.8 508 L649.5 510.5 L651 510.87 L652.5 511 L654 510.83 L655.5 510.95 L657 511.04 L658.5 511.02 L660 510.95 L660.5 510.5 L661.6 434 L662.4 470 L663.3 295 L664.6 295 L665.4 480 L666.2 504 L668 508.5 L670 509.8 L671.5 509.95 L673 510.33 L674.5 510.46 L676 510.74 L676.8 510.56 L677.4 457.6 L678 510.82 L679.5 510.56 L681 510.61 L682.5 510.79 L683.85 510.86 L684.3 509.3 L684.75 510.9 L686.25 510.72 L687.75 510.96 L689.25 510.75 L690.75 510.85 L692.25 510.89 L693.75 510.97 L694.15 510.98 L694.6 508.6 L695.05 510.92 L696.55 510.7 L698.05 510.97 L699.55 510.92 L701.05 511.1 L702.55 511.18 L702.65 511.18 L703.1 509.3 L703.55 510.95 L705.05 510.95 L706.55 510.96 L708.05 511.02 L709.55 511.08 L711.05 511.13 L712.55 510.53 L714.05 511.07 L715.55 511.19 L717.05 510.12 L718.55 511.23 L720.05 511.02 L721.55 511.28 L722.05 511.08 L722.5 509.8 L722.95 511.09 L724.45 511.1 L725.95 511.29 L727.45 511.29 L728.95 511.26 L730.45 511.04 L731.95 511.07 L733.45 511.2 L734.95 511.31 L736.45 511.04 L737.95 511.07 L739.45 511.13 L740.95 511.13 L742.45 511.3 L743.95 510.16 L745.45 511.13 L746.95 511.18 L748.45 511.27 L749.95 511.3 L751.45 511.37 L752.95 511.3 L754.45 511.35 L755.95 511.37 L757.45 511.35 L758.95 510.41 L760.45 511.14 L761.95 511.38 L763.45 511.22 L763.9 510.6 L764.35 511.15 L765.85 511.29 L767.35 511.39 L768.85 511.19 L770.35 511.16 L771.85 511.28 L773.35 511.19 L774.85 511.03 L776.35 511.46 L777.85 511.42 L779.35 511.47 L780.85 511.39 L782.35 511.31 L783.85 511.2 L785.35 511.3 L785.5 510.88 L785.65 510.52 L785.8 509.42 L785.95 508.46 L786.1 506.99 L786.25 504.9 L786.4 502.54 L786.55 498.95 L786.7 494.67 L786.85 490.05 L787 485.14 L787.15 480.56 L787.3 476.83 L787.45 474.36 L787.6 473.5 L787.75 474.11 L787.9 476.58 L788.05 480.34 L788.2 484.92 L788.35 490.09 L788.5 494.86 L788.65 499.15 L788.8 502.54 L788.95 505.36 L789.1 507.46 L789.25 508.92 L789.4 509.96 L789.55 510.57 L789.7 510.93 L791.2 511.46 L792.7 511.24 L794.2 511.24 L795.7 510.56 L797.2 511.29 L798.7 511.49 L800.2 511.41 L801.7 511.39 L803.2 511.34 L804.25 511.28 L804.7 510.6 L805.15 511.56 L806.65 511.35 L808.15 511.31 L809.65 511.41 L811.15 511.4 L812.65 511.49 L813.5 511.31" fill="none" stroke="#000" stroke-width="1.1" stroke-linejoin="round"/>
<path clip-path="url(#cp3)" d="M662.4 509 L662.7 298 L665.4 298 L665.9 505 Z" fill="#8a8a8a" stroke="none"/>
<text class="tt" x="637.8" y="554" text-anchor="middle">Time (min)</text>
<text class="tt" transform="translate(433.2 405.6) rotate(-90)" text-anchor="middle">Abundance (x10<tspan class="sup" dy="-7">6</tspan><tspan dy="7">)</tspan></text>
<text class="let" x="475.1" y="312.4" style="font-size:19px">d</text>
<text class="pl" transform="translate(475 494.6) scale(0.87 1)" text-anchor="middle">1</text>
<text class="pl" transform="translate(505.1 495.6) scale(0.87 1)" text-anchor="middle">2</text>
<text class="pl" transform="translate(514.9 494.6) scale(0.87 1)" text-anchor="middle">3</text>
<text class="pl" transform="translate(525.4 466.2) scale(0.87 1)" text-anchor="middle">4</text>
<text class="pl" transform="translate(569.5 470.7) scale(0.87 1)" text-anchor="middle">5</text>
<text class="pl" transform="translate(583.3 440.7) scale(0.87 1)" text-anchor="middle">6</text>
<text class="pl" transform="translate(622.7 426.3) scale(0.87 1)" text-anchor="middle">7</text>
<text class="pl" transform="translate(638.4 476.7) scale(0.87 1)" text-anchor="middle">8</text>
<text class="pl" transform="translate(637.6 312.5) scale(0.87 1)" text-anchor="middle">10</text>
<text class="pl" transform="translate(672.8 312.8) scale(0.87 1)" text-anchor="middle">9</text>
<text class="pl" transform="translate(656.6 430.7) scale(0.87 1)" text-anchor="middle">11</text>
<text class="pl" transform="translate(691.8 476.9) scale(0.87 1)" text-anchor="middle">12</text>
<text class="pl" transform="translate(787.2 468.2) scale(0.87 1)" text-anchor="middle">13</text></g>
</svg>
</body></html>
